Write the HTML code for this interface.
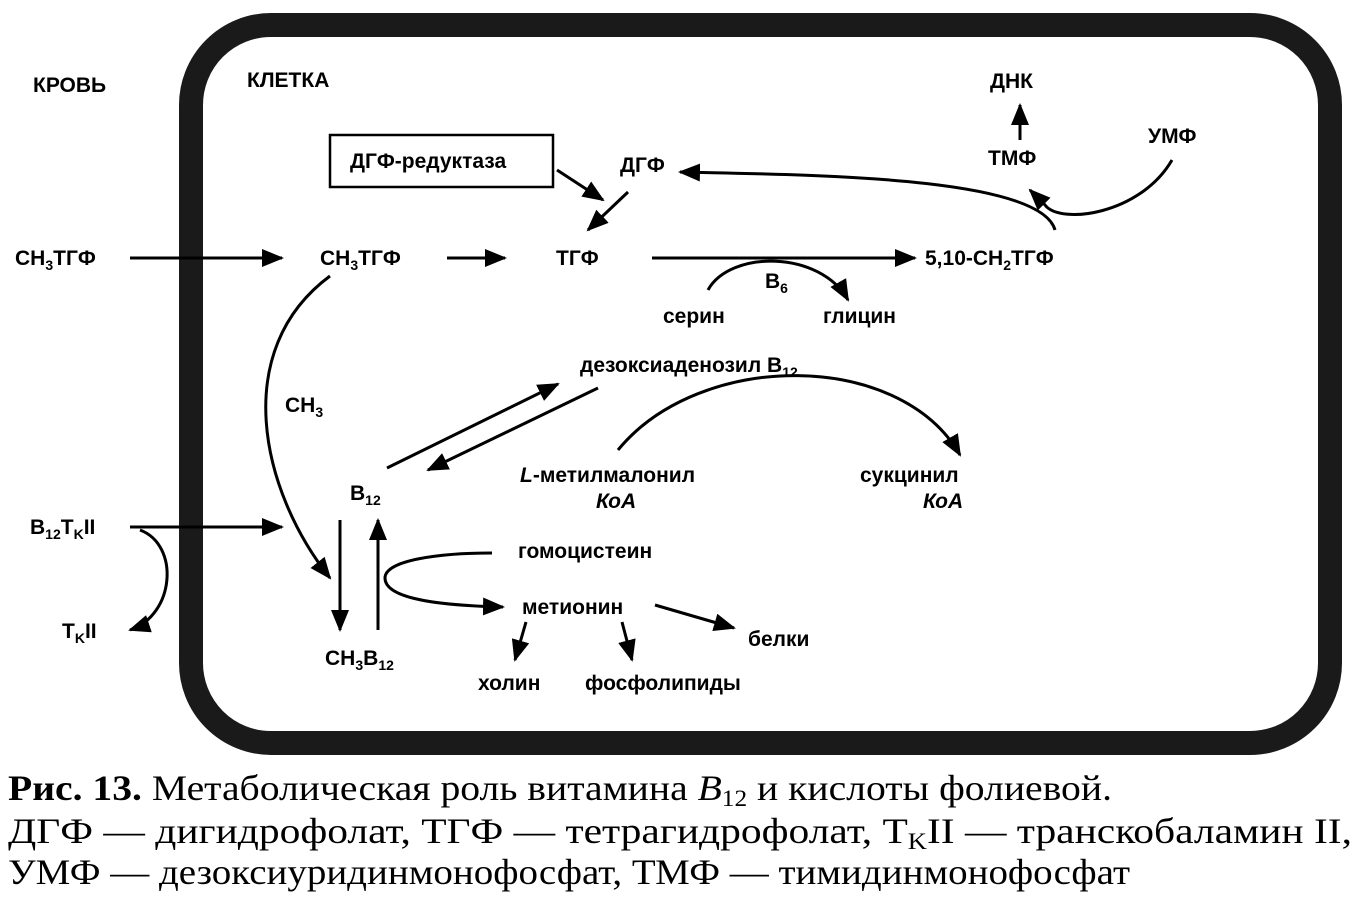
<!DOCTYPE html>
<html><head><meta charset="utf-8"><style>
body{margin:0;background:#fff;width:1365px;height:905px;overflow:hidden}
svg text{font-family:"Liberation Sans",sans-serif;font-size:21px;font-weight:bold;fill:#000}
.cap{font-family:"Liberation Serif",serif;font-size:36px;font-weight:normal}
</style></head><body>
<svg width="1365" height="905" viewBox="0 0 1365 905">
<defs>
<marker id="b" markerWidth="22" markerHeight="18" refX="20" refY="9" orient="auto" markerUnits="userSpaceOnUse"><path d="M0,0 L22,9 L0,18 z" fill="#000"/></marker></defs>
<rect x="191" y="25" width="1139" height="718" rx="80" fill="none" stroke="#1a1a1a" stroke-width="24"/>
<g stroke="#000" stroke-width="3" fill="none">
<line x1="130" y1="258" x2="282" y2="258" marker-end="url(#b)"/>
<line x1="447" y1="258" x2="505" y2="258" marker-end="url(#b)"/>
<line x1="652" y1="258" x2="915" y2="258" marker-end="url(#b)"/>
<line x1="557" y1="170" x2="603" y2="200" marker-end="url(#b)"/>
<line x1="628" y1="192" x2="588" y2="230" marker-end="url(#b)"/>
<path d="M1055,230 C1040,175 800,175 680,172" marker-end="url(#b)"/>
<path d="M1172,160 C1140,215 1060,225 1045,205 L1030,190" marker-end="url(#b)"/>
<line x1="1020" y1="140" x2="1020" y2="105" marker-end="url(#b)"/>
<path d="M708,290 C730,250 820,250 848,300" marker-end="url(#b)"/>
<path d="M330,276 C230,350 260,490 330,578" marker-end="url(#b)"/>
<line x1="130" y1="527" x2="282" y2="527" marker-end="url(#b)"/>
<path d="M140,530 C180,545 175,615 130,630" marker-end="url(#b)"/>
<line x1="387" y1="468" x2="558" y2="384" marker-end="url(#b)"/>
<line x1="598" y1="388" x2="428" y2="470" marker-end="url(#b)"/>
<path d="M618,450 C700,350 900,350 960,455" marker-end="url(#b)"/>
<line x1="340" y1="520" x2="340" y2="630" marker-end="url(#b)"/>
<line x1="378" y1="630" x2="378" y2="520" marker-end="url(#b)"/>
<path d="M492,553 C440,553 385,560 385,578 C385,595 420,605 503,607" marker-end="url(#b)"/>
<line x1="526" y1="622" x2="515" y2="660" marker-end="url(#b)"/>
<line x1="622" y1="622" x2="632" y2="660" marker-end="url(#b)"/>
<line x1="655" y1="605" x2="734" y2="628" marker-end="url(#b)"/>
</g>
<rect x="330" y="135" width="223" height="52" fill="none" stroke="#000" stroke-width="2.5"/>
<text x="33" y="92">КРОВЬ</text>
<text x="247" y="87">КЛЕТКА</text>
<text x="350" y="168" font-weight="normal">ДГФ-редуктаза</text>
<text x="620" y="172">ДГФ</text>
<text x="990" y="88">ДНК</text>
<text x="988" y="165">ТМФ</text>
<text x="1148" y="143">УМФ</text>
<text x="15" y="265">CH<tspan font-size="14" dy="5">3</tspan><tspan dy="-5">ТГФ</tspan></text>
<text x="320" y="265">CH<tspan font-size="14" dy="5">3</tspan><tspan dy="-5">ТГФ</tspan></text>
<text x="556" y="265">ТГФ</text>
<text x="925" y="265">5,10-CH<tspan font-size="14" dy="5">2</tspan><tspan dy="-5">ТГФ</tspan></text>
<text x="765" y="288">B<tspan font-size="14" dy="5">6</tspan></text>
<text x="663" y="323">серин</text>
<text x="823" y="323">глицин</text>
<text x="580" y="372">дезоксиаденозил B<tspan font-size="14" dy="5">12</tspan></text>
<text x="285" y="412">CH<tspan font-size="14" dy="5">3</tspan></text>
<text x="520" y="482"><tspan font-style="italic">L</tspan>-метилмалонил</text>
<text x="596" y="508" font-style="italic">КоА</text>
<text x="860" y="482">сукцинил</text>
<text x="923" y="508" font-style="italic">КоА</text>
<text x="350" y="500">B<tspan font-size="14" dy="5">12</tspan></text>
<text x="30" y="534">B<tspan font-size="14" dy="5">12</tspan><tspan dy="-5">T</tspan><tspan font-size="14" dy="5">K</tspan><tspan dy="-5">II</tspan></text>
<text x="62" y="638">T<tspan font-size="14" dy="5">K</tspan><tspan dy="-5">II</tspan></text>
<text x="518" y="558">гомоцистеин</text>
<text x="522" y="614">метионин</text>
<text x="748" y="646">белки</text>
<text x="325" y="665">CH<tspan font-size="14" dy="5">3</tspan><tspan dy="-5">B</tspan><tspan font-size="14" dy="5">12</tspan></text>
<text x="478" y="690">холин</text>
<text x="585" y="690">фосфолипиды</text>
<text class="cap" x="8" y="800" textLength="1104" lengthAdjust="spacingAndGlyphs"><tspan font-weight="bold">Рис.  13.</tspan> Метаболическая роль витамина <tspan font-style="italic">B</tspan><tspan font-size="23" dy="6">12</tspan><tspan dy="-6"> и кислоты фолиевой.</tspan></text>
<text class="cap" x="8" y="843" textLength="1344" lengthAdjust="spacingAndGlyphs">ДГФ — дигидрофолат, ТГФ — тетрагидрофолат, T<tspan font-size="23" dy="6">K</tspan><tspan dy="-6">II — транскобаламин II,</tspan></text>
<text class="cap" x="8" y="884" textLength="1122" lengthAdjust="spacingAndGlyphs">УМФ — дезоксиуридинмонофосфат, ТМФ — тимидинмонофосфат</text>
</svg>
</body></html>
